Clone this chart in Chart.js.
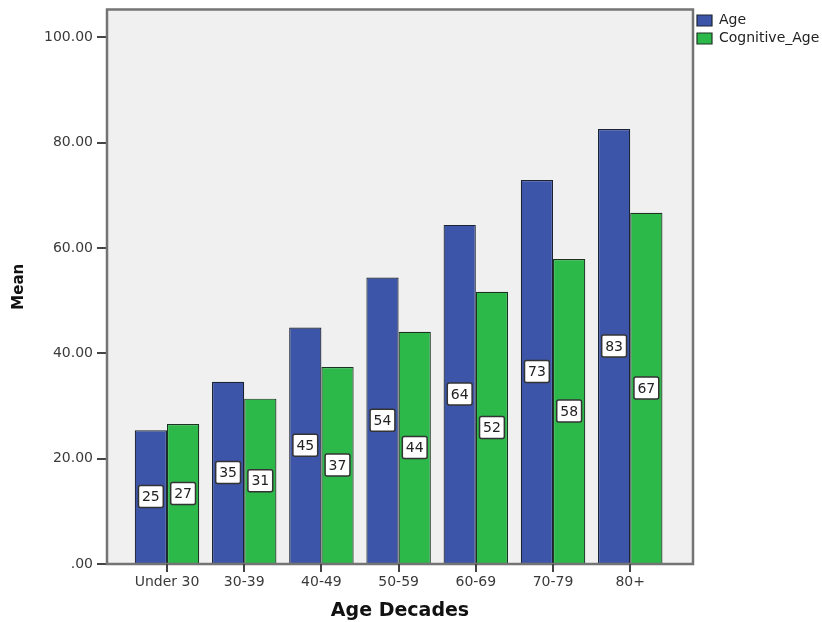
<!DOCTYPE html>
<html lang="en">
<head>
<meta charset="UTF-8">
<title>Age and Cognitive Age by Age Decades</title>
<script src="https://cdn.jsdelivr.net/npm/chart.js"></script>
<style>
    body { margin: 0; background: #fff; }
    #wrap { width: 822px; height: 622px; }
</style>
</head>
<body>
<div id="wrap"><canvas id="chart"></canvas></div>
<script>
// mean values per age decade
const decades = ['Under 30', '30-39', '40-49', '50-59', '60-69', '70-79', '80+'];
const ageMeans = [25.4, 34.6, 44.9, 54.4, 64.4, 72.9, 82.6];
const cognitiveMeans = [26.6, 31.4, 37.4, 44.1, 51.7, 57.9, 66.7];
const meanTicks = [0, 20, 40, 60, 80, 100];
const meanTickLabels = ['.00', '20.00', '40.00', '60.00', '80.00', '100.00'];

const FONT = '"DejaVu Sans", Verdana, sans-serif';
Chart.defaults.font.family = FONT;

// grey plot panel with a frame round it, plus the short marks under each decade
const plotFrame = {
    id: 'plotFrame',
    beforeDatasetsDraw(chart) {
        const a = chart.chartArea, ctx = chart.ctx;
        ctx.save();
        ctx.fillStyle = '#f0f0f0';
        ctx.fillRect(a.left, a.top, a.right - a.left, a.bottom - a.top);
        ctx.restore();
    },
    afterDatasetsDraw(chart) {
        const a = chart.chartArea, ctx = chart.ctx;
        const xs = chart.scales.x;
        ctx.save();
        ctx.strokeStyle = '#747474';
        ctx.lineWidth = 2.5;
        ctx.strokeRect(a.left, a.top, a.right - a.left, a.bottom - a.top);
        ctx.strokeStyle = '#444';
        ctx.lineWidth = 2;
        ctx.beginPath();
        xs.ticks.forEach((t, i) => {
            const px = Math.round(xs.getPixelForTick(i));
            ctx.moveTo(px, a.bottom);
            ctx.lineTo(px, a.bottom + 8);
        });
        ctx.stroke();
        ctx.restore();
    }
};

// rounded value in a white box at the middle of each bar
const barLabels = {
    id: 'barLabels',
    afterDraw(chart) {
        const ctx = chart.ctx;
        ctx.save();
        ctx.font = '14px ' + FONT;
        ctx.textAlign = 'center';
        ctx.textBaseline = 'middle';
        chart.data.datasets.forEach((ds, di) => {
            chart.getDatasetMeta(di).data.forEach((bar, i) => {
                const txt = String(Math.round(ds.data[i].y));
                const w = ctx.measureText(txt).width + 7;
                const h = 22;
                const cx = bar.x, cy = (bar.y + bar.base) / 2;
                ctx.beginPath();
                ctx.roundRect(cx - w / 2, cy - h / 2, w, h, 2);
                ctx.fillStyle = '#ffffff';
                ctx.fill();
                ctx.lineWidth = 1.5;
                ctx.strokeStyle = '#333333';
                ctx.stroke();
                ctx.fillStyle = '#222222';
                ctx.fillText(txt, cx, cy + 1);
            });
        });
        ctx.restore();
    }
};

new Chart(document.getElementById('chart'), {
    type: 'bar',
    data: {
        datasets: [{
            label: 'Age',
            data: ageMeans.map((v, i) => ({ x: i + 1, y: v })),
            backgroundColor: '#3c55a8',
            borderColor: '#1c2433',
            borderWidth: 1.2,
            categoryPercentage: 0.835,
            barPercentage: 1
        }, {
            label: 'Cognitive_Age',
            data: cognitiveMeans.map((v, i) => ({ x: i + 1, y: v })),
            backgroundColor: '#2db84a',
            borderColor: '#1c3322',
            borderWidth: 1.2,
            categoryPercentage: 0.835,
            barPercentage: 1
        }]
    },
    options: {
        responsive: true,
        maintainAspectRatio: false,
        animation: false,
        layout: { padding: { top: 9.5, right: 0, bottom: 0, left: 0 } },
        plugins: {
            legend: {
                position: 'right',
                align: 'start',
                maxWidth: 129,
                labels: {
                    boxWidth: 15,
                    boxHeight: 11,
                    padding: 4,
                    color: '#222',
                    font: { size: 14 }
                }
            },
            tooltip: { enabled: false }
        },
        scales: {
            x: {
                type: 'linear',
                offset: false,
                min: 0.223,
                max: 7.813,
                afterFit(s) { s.height = 58; },
                afterBuildTicks(s) { s.ticks = decades.map((_, i) => ({ value: i + 1 })); },
                grid: { offset: false, drawOnChartArea: false, drawTicks: false, tickLength: 8 },
                border: { display: false },
                ticks: {
                    padding: 10,
                    color: '#3a3a3a',
                    font: { size: 14 },
                    callback: v => decades[v - 1]
                },
                title: {
                    display: true,
                    text: 'Age Decades',
                    color: '#111',
                    font: { size: 19, weight: 'bold' },
                    padding: 0
                }
            },
            y: {
                min: 0,
                max: 105.3,
                afterFit(s) {
                    s.width = 107;
                    s.paddingTop = 0;
                    s.paddingBottom = 0;
                },
                afterBuildTicks(s) { s.ticks = meanTicks.map(v => ({ value: v })); },
                grid: { drawOnChartArea: false, tickLength: 10, color: '#444', lineWidth: 2 },
                border: { display: false },
                ticks: {
                    padding: 4,
                    color: '#3a3a3a',
                    font: { size: 14 },
                    callback: (v) => meanTickLabels[meanTicks.indexOf(v)]
                },
                title: {
                    display: true,
                    text: 'Mean',
                    color: '#111',
                    font: { size: 15, weight: 'bold' },
                    padding: { top: 10, bottom: 0 }
                }
            }
        }
    },
    plugins: [plotFrame, barLabels]
});
</script>
</body>
</html>
